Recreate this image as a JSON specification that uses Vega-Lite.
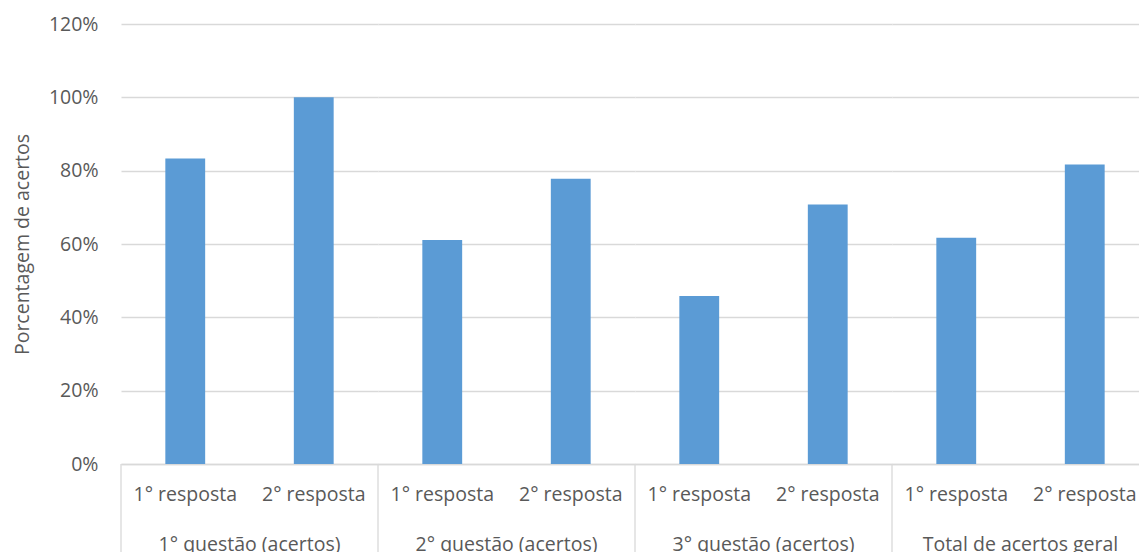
{
  "$schema": "https://vega.github.io/schema/vega-lite/v6.json",
  "padding": {"left": 12, "top": 14, "right": 0, "bottom": 0},
  "background": "white",
  "bounds": "flush",
  "data": {
    "values": [
      {"questao": "1° questão (acertos)", "resposta": "1° resposta", "valor": 0.833},
      {"questao": "1° questão (acertos)", "resposta": "2° resposta", "valor": 1.0},
      {"questao": "2° questão (acertos)", "resposta": "1° resposta", "valor": 0.611},
      {"questao": "2° questão (acertos)", "resposta": "2° resposta", "valor": 0.778},
      {"questao": "3° questão (acertos)", "resposta": "1° resposta", "valor": 0.458},
      {"questao": "3° questão (acertos)", "resposta": "2° resposta", "valor": 0.708},
      {"questao": "Total de acertos geral", "resposta": "1° resposta", "valor": 0.617},
      {"questao": "Total de acertos geral", "resposta": "2° resposta", "valor": 0.817}
    ]
  },
  "facet": {
    "column": {
      "field": "questao",
      "type": "nominal",
      "title": null,
      "sort": ["1° questão (acertos)", "2° questão (acertos)", "3° questão (acertos)", "Total de acertos geral"],
      "header": {
        "labelOrient": "bottom",
        "labelFont": "Open Sans",
        "labelFontSize": 19.5,
        "labelColor": "#595959",
        "labelPadding": 32
      }
    }
  },
  "spacing": 0,
  "spec": {
    "width": 257,
    "height": 440,
    "layer": [
      {
        "mark": {"type": "bar", "color": "#5b9bd5", "width": {"band": 0.31}},
        "encoding": {
          "x": {
            "field": "resposta",
            "type": "nominal",
            "scale": {"paddingInner": 0, "paddingOuter": 0},
            "axis": {
              "title": null,
              "labelAngle": 0,
              "ticks": false,
              "domainColor": "#d9d9d9",
              "domainWidth": 1.3,
              "labelFont": "Open Sans",
              "labelFontSize": 19.5,
              "labelColor": "#595959",
              "labelPadding": 21
            }
          },
          "y": {
            "field": "valor",
            "type": "quantitative",
            "scale": {"domain": [0, 1.2], "nice": false},
            "axis": {
              "title": "Porcentagem de acertos",
              "format": ".0%",
              "values": [0, 0.2, 0.4, 0.6, 0.8, 1.0, 1.2],
              "domain": false,
              "ticks": false,
              "gridColor": "#d9d9d9",
              "gridWidth": 1.3,
              "labelFont": "Open Sans",
              "labelFontSize": 19.5,
              "labelColor": "#595959",
              "labelPadding": 23,
              "titleFont": "Open Sans",
              "titleFontSize": 19.5,
              "titleFontWeight": "normal",
              "titleColor": "#595959",
              "titlePadding": 16
            }
          }
        }
      },
      {
        "transform": [{"filter": "datum.resposta === '1° resposta'"}],
        "mark": {"type": "rule", "color": "#d9d9d9", "strokeWidth": 1.3, "clip": false},
        "encoding": {
          "x": {"field": "resposta", "type": "nominal", "bandPosition": 0},
          "y": {"datum": 0, "type": "quantitative"},
          "y2": {"datum": -0.24}
        }
      }
    ]
  },
  "config": {
    "view": {"stroke": null}
  }
}
